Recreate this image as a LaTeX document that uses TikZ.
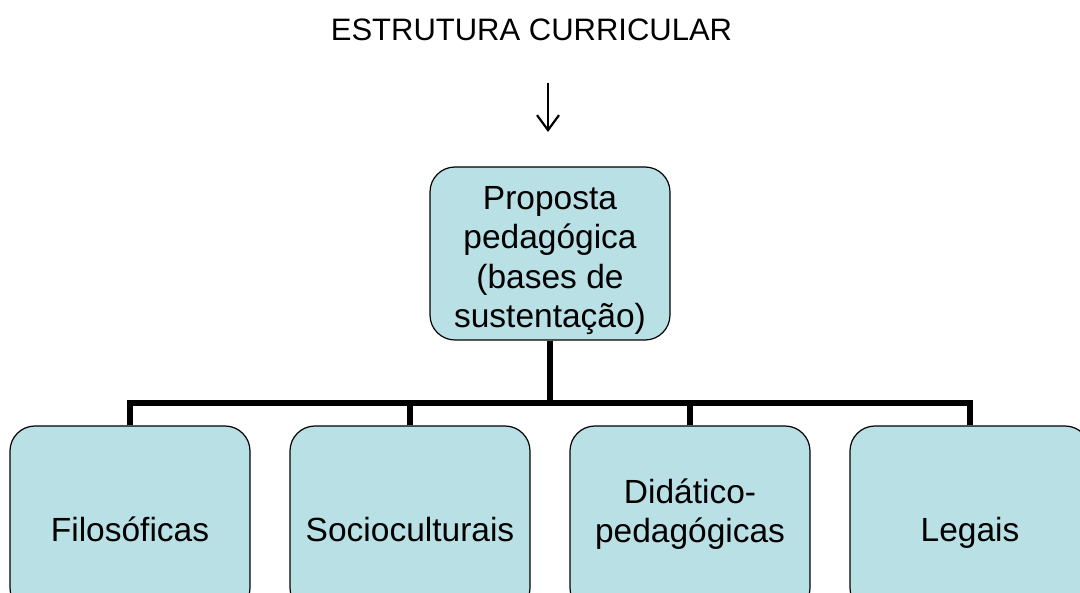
\documentclass[tikz,border=0pt]{standalone}
\usepackage{fontspec}
\setmainfont{Liberation Sans}
\usetikzlibrary{arrows.meta}

\tikzset{
  pbox/.style={draw=black, line width=1.2pt, fill={rgb,255:red,185;green,224;blue,228},
    rounded corners=25pt, minimum width=240pt, minimum height=173pt, inner sep=0pt,
    align=center, font=\fontsize{33.5pt}{39.5pt}\selectfont},
  bbox/.style={pbox, minimum height=187pt, text height=52pt, text depth=7pt},
  tree/.style={line width=6pt},
}

\begin{document}
\begin{tikzpicture}[x=1pt,y=1pt,yscale=-1]
\useasboundingbox (0,0) rectangle (1080,593);
\clip (0,0) rectangle (1080,593);

% Text Node
\node (titulo) [anchor=base, font=\fontsize{31pt}{37pt}\selectfont] at (531.5,41) {ESTRUTURA CURRICULAR};

%Straight Lines
\coordinate (seta1) at (548,83);
\coordinate (seta2) at (548,132);
\draw [line width=2.2pt, -{Straight Barb[length=15pt,width=22pt]}] (seta1) -- (seta2);

%Shape: Rounded Rect
\node (proposta) [pbox, text height=156pt, text depth=7pt] at (550,253.5) {Proposta\\pedagógica\\(bases de\\sustentação)};

%Shape: Rounded Rect
\node (filo) [bbox] at (130,519.5) {Filosóficas};
\node (socio) [bbox] at (410,519.5) {Socioculturais};
\node (dida) [bbox, text height=54pt, text depth=7pt] at (690,519.5) {Didático-\\pedagógicas};
\node (legais) [bbox] at (970,519.5) {Legais};

%Straight Lines
\coordinate (barra) at (550,403);
\draw [tree] (proposta.south) -- (barra);
\draw [tree] (filo.north) -- (filo.north |- barra) -- (legais.north |- barra) -- (legais.north);
\draw [tree] (socio.north |- barra) -- (socio.north);
\draw [tree] (dida.north |- barra) -- (dida.north);

\end{tikzpicture}
\end{document}
